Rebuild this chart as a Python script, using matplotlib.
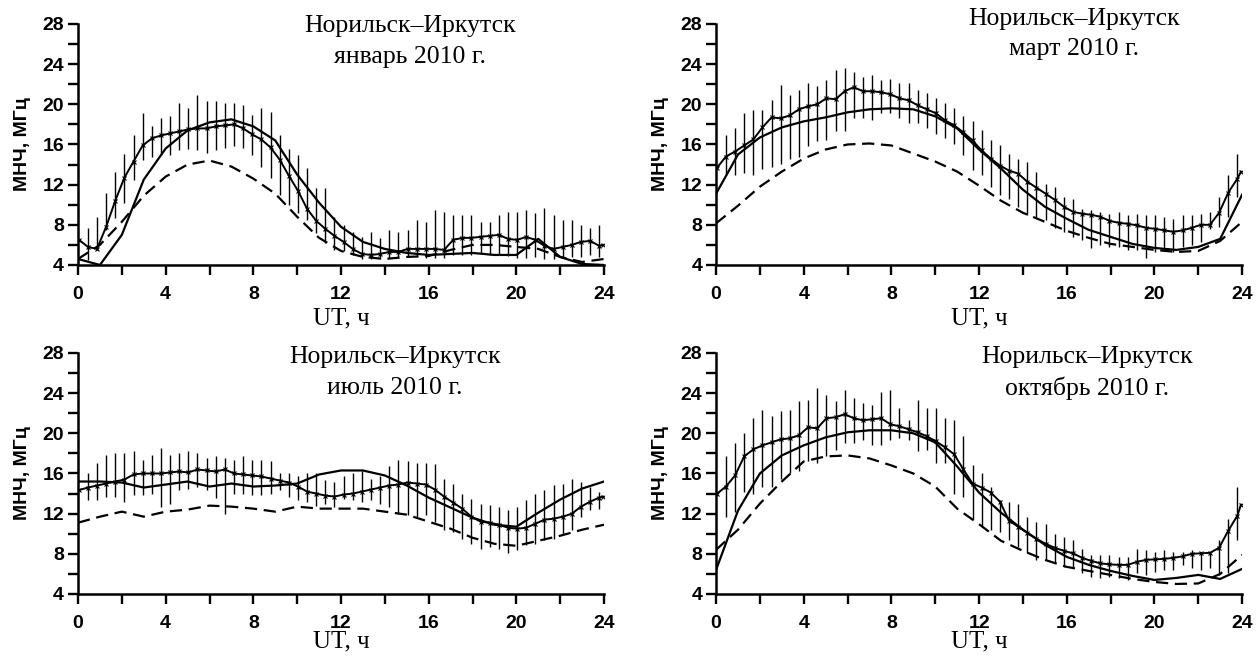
import matplotlib.pyplot as plt
import numpy as np
from matplotlib.ticker import MultipleLocator

# модельные кривые: значения на целые часы UT
HOURS = list(range(25))
# измерения: отсчёты через 25 мин (бары) + крайние точки
T_BAR = 0.45 + np.arange(57) * 25 / 60
T_MEAS = np.r_[0.05, T_BAR, 23.95]

TITLES = ["январь 2010 г.", "март 2010 г.", "июль 2010 г.", "октябрь 2010 г."]
ROUTE = "Норильск–Иркутск"

# ---- январь ----
MEAS_JAN = [6.5, 5.8, 5.6, 7.8, 10.4, 12.7, 14.3, 15.9, 16.6, 16.9, 17.1, 17.3, 17.5, 17.6, 17.6,
            17.8, 17.9, 18.0, 17.6, 17.0, 16.5, 15.7, 14.5, 12.9, 11.4, 9.6, 8.4, 7.6, 6.9, 6.3,
            5.6, 5.1, 5.0, 5.1, 5.3, 5.3, 5.6, 5.6, 5.6, 5.6, 5.5, 6.5, 6.7, 6.7, 6.8, 6.9, 7.0,
            6.6, 6.5, 6.8, 6.5, 5.9, 5.6, 5.8, 6.0, 6.3, 6.4, 5.9, 6.0]
LO_JAN = [4.5, 5.5, 7.5, 8.7, 10.2, 12.5, 14.5, 14.8, 15.0, 15.0, 15.4, 15.5, 15.4, 15.2, 15.4,
          15.6, 15.8, 15.6, 15.0, 13.8, 12.7, 11.0, 10.0, 9.2, 8.5, 7.2, 6.2, 5.5, 5.4, 5.0,
          4.6, 4.6, 4.6, 4.7, 4.8, 4.8, 4.8, 4.7, 4.7, 4.7, 5.0, 5.0, 5.0, 5.2, 5.0, 5.0, 4.9,
          4.7, 4.7, 4.8, 4.6, 4.6, 4.8, 4.8, 4.8, 5.0, 4.8]
HI_JAN = [7.7, 8.8, 11.2, 13.3, 15.1, 16.9, 19.1, 17.8, 18.6, 18.8, 20.1, 19.6, 20.9, 20.3, 20.3,
          20.1, 20.1, 19.9, 18.9, 19.6, 19.2, 16.9, 15.5, 15.0, 13.7, 11.7, 11.7, 8.8, 8.0, 7.3,
          6.8, 7.3, 6.7, 7.5, 7.3, 7.5, 8.5, 8.3, 9.5, 9.3, 9.0, 9.0, 9.0, 8.3, 8.3, 9.0, 9.3,
          9.3, 9.5, 9.2, 9.7, 9.0, 8.5, 8.5, 8.0, 7.7, 8.0]
SOLID_JAN = [4.6, 4.0, 7.0, 12.5, 15.6, 17.4, 18.2, 18.5, 17.8, 16.4, 13.0, 10.2, 7.8, 6.3, 5.6,
             5.2, 5.0, 5.1, 5.2, 5.0, 5.0, 6.6, 4.8, 4.1, 4.0]
DASH_JAN = [4.6, 6.0, 8.3, 10.9, 12.8, 14.0, 14.4, 13.8, 12.6, 11.1, 8.8, 6.7, 5.4, 4.8, 4.6,
            4.8, 4.9, 5.5, 6.0, 6.0, 5.8, 5.6, 4.8, 4.3, 4.6]

# ---- март ----
MEAS_MAR = [13.7, 14.8, 15.3, 15.9, 16.5, 17.7, 18.7, 18.6, 18.9, 19.5, 19.8, 20.0, 20.6, 20.5,
            21.3, 21.7, 21.3, 21.3, 21.2, 21.0, 20.6, 20.4, 19.9, 19.5, 19.1, 18.4, 17.9, 17.2,
            16.4, 15.4, 14.6, 13.9, 13.4, 13.1, 12.3, 11.7, 11.1, 10.5, 9.8, 9.3, 9.1, 9.0, 8.8,
            8.4, 8.2, 8.1, 7.95, 7.7, 7.6, 7.45, 7.3, 7.45, 7.7, 8.0, 8.0, 9.2, 11.2, 12.6, 13.3]
LO_MAR = [13.0, 13.0, 13.2, 13.0, 13.6, 13.8, 14.1, 14.6, 14.8, 15.8, 16.3, 16.4, 17.3, 17.3,
          18.6, 18.6, 18.4, 19.1, 19.1, 18.6, 18.1, 18.1, 17.6, 17.0, 16.6, 16.0, 15.0, 13.5,
          13.0, 11.8, 11.0, 10.6, 9.8, 9.0, 8.8, 8.5, 7.65, 7.3, 6.8, 6.5, 5.65, 6.0, 5.8, 5.8,
          5.5, 5.5, 4.7, 5.3, 5.5, 5.3, 5.8, 6.0, 6.3, 7.6, 7.8, 8.8, 10.8]
HI_MAR = [16.9, 17.6, 19.1, 19.4, 19.4, 20.4, 21.9, 20.9, 21.4, 22.1, 21.8, 22.4, 23.4, 23.6,
          23.2, 22.7, 22.9, 22.4, 22.5, 22.1, 22.1, 21.4, 21.1, 20.6, 20.1, 19.6, 18.8, 18.3,
          17.4, 16.4, 15.9, 15.1, 14.6, 14.3, 13.3, 12.1, 11.8, 10.8, 10.6, 9.6, 9.5, 9.3, 9.1,
          9.3, 9.0, 9.1, 9.0, 9.0, 8.8, 8.6, 9.0, 9.0, 9.1, 9.3, 10.8, 13.0, 15.1]
SOLID_MAR = [11.1, 15.0, 16.7, 17.7, 18.3, 18.7, 19.2, 19.5, 19.6, 19.5, 18.8, 17.6, 15.5, 13.6,
             11.5, 9.8, 8.6, 7.5, 6.8, 6.1, 5.7, 5.5, 5.8, 6.6, 11.0]
DASH_MAR = [8.15, 9.9, 11.8, 13.3, 14.6, 15.5, 16.0, 16.1, 15.9, 15.1, 14.3, 13.3, 11.9, 10.4,
            9.2, 8.3, 7.4, 6.7, 6.1, 5.8, 5.5, 5.3, 5.4, 6.4, 8.3]

# ---- июль ----
MEAS_JUL = [14.35, 14.6, 14.8, 15.0, 15.2, 15.4, 15.9, 16.0, 16.0, 16.0, 16.1, 16.2, 16.1, 16.4,
            16.3, 16.2, 16.4, 16.0, 15.9, 15.8, 15.7, 15.5, 15.3, 15.1, 14.7, 14.2, 14.0, 13.8,
            13.7, 13.9, 14.0, 14.2, 14.4, 14.6, 14.8, 14.9, 15.1, 15.0, 14.9, 14.4, 13.7, 13.1,
            12.5, 11.7, 11.2, 11.1, 10.9, 10.6, 10.5, 10.6, 11.0, 11.4, 11.5, 11.7, 12.0, 12.7,
            13.2, 13.6, 13.7]
LO_JUL = [13.4, 13.4, 13.7, 13.7, 13.2, 13.9, 13.9, 14.0, 12.7, 13.0, 14.4, 14.5, 14.7, 14.35,
          13.6, 12.0, 14.0, 14.0, 13.9, 13.9, 14.0, 14.35, 13.7, 13.4, 13.2, 12.8, 13.0, 12.7,
          13.5, 13.4, 13.2, 13.4, 13.0, 12.7, 12.0, 11.9, 11.7, 11.9, 11.2, 10.4, 10.2, 9.5, 9.0,
          8.5, 8.7, 8.5, 8.05, 8.4, 8.9, 9.0, 9.4, 9.5, 10.0, 10.4, 11.7, 12.4, 12.5]
HI_JUL = [16.0, 17.0, 17.8, 18.0, 18.0, 18.2, 17.3, 17.8, 18.5, 17.8, 18.0, 18.2, 18.0, 17.5,
          17.7, 17.5, 17.3, 17.7, 17.3, 17.3, 17.2, 16.0, 16.0, 15.7, 16.0, 16.0, 15.35, 15.2,
          15.7, 16.0, 16.2, 15.5, 15.7, 16.7, 17.3, 17.2, 17.0, 17.0, 16.9, 15.5, 15.0, 14.0,
          13.5, 13.0, 12.9, 12.7, 12.4, 12.7, 13.4, 14.0, 14.35, 14.85, 15.0, 15.5, 15.2, 14.7,
          14.2]
SOLID_JUL = [15.2, 15.2, 15.1, 14.6, 14.9, 15.2, 14.7, 15.0, 14.7, 14.8, 15.0, 15.9, 16.3, 16.3,
             15.8, 14.8, 13.6, 12.6, 11.6, 10.9, 10.7, 12.1, 13.4, 14.5, 15.2]
DASH_JUL = [11.1, 11.7, 12.2, 11.7, 12.2, 12.4, 12.8, 12.7, 12.5, 12.2, 12.7, 12.5, 12.5, 12.5,
            12.2, 11.9, 11.2, 10.5, 9.6, 9.0, 8.8, 9.3, 9.8, 10.4, 10.9]

# ---- октябрь ----
MEAS_OCT = [14.0, 14.7, 15.8, 17.7, 18.4, 18.8, 19.1, 19.4, 19.5, 19.8, 20.6, 20.5, 21.5, 21.6,
            21.9, 21.5, 21.3, 21.4, 21.5, 20.9, 20.7, 20.4, 20.1, 19.7, 19.2, 18.6, 17.9, 16.4,
            15.0, 14.6, 14.1, 13.2, 11.3, 10.7, 10.1, 9.5, 9.0, 8.6, 8.3, 8.05, 7.6, 7.3, 7.05,
            6.95, 6.9, 6.9, 7.2, 7.4, 7.45, 7.5, 7.6, 7.75, 8.0, 8.05, 8.1, 8.6, 10.3, 11.8, 12.9]
LO_OCT = [11.7, 12.2, 14.2, 14.0, 14.7, 14.7, 15.5, 16.0, 16.2, 17.2, 17.0, 17.7, 18.3, 19.0,
          19.0, 19.3, 18.8, 18.8, 19.3, 19.5, 19.3, 18.2, 18.3, 17.0, 17.0, 14.0, 13.7, 11.5,
          10.7, 10.4, 10.2, 9.4, 8.7, 8.05, 7.4, 7.4, 7.05, 6.7, 6.7, 6.05, 5.7, 5.55, 5.7, 5.55,
          5.4, 6.05, 5.9, 6.2, 6.4, 6.4, 6.9, 6.55, 6.4, 6.55, 5.9, 6.05, 9.4]
HI_OCT = [17.7, 19.0, 20.0, 21.5, 22.3, 21.7, 22.2, 22.3, 23.2, 23.3, 24.5, 23.8, 23.2, 24.3,
          23.5, 23.0, 22.8, 24.1, 24.3, 22.5, 21.3, 23.3, 22.5, 22.5, 21.5, 21.3, 19.7, 16.85,
          16.0, 14.7, 13.4, 13.2, 13.0, 11.7, 11.2, 11.0, 10.0, 9.7, 9.4, 8.5, 7.9, 7.9, 7.9,
          7.7, 7.7, 8.5, 8.4, 8.2, 8.4, 8.2, 8.2, 8.4, 8.2, 8.2, 9.4, 11.5, 14.7]
SOLID_OCT = [6.4, 12.3, 16.0, 17.8, 18.8, 19.6, 20.1, 20.3, 20.3, 20.0, 19.1, 16.7, 14.1, 12.1,
             10.4, 8.9, 7.7, 6.9, 6.3, 5.8, 5.4, 5.6, 5.9, 5.5, 6.5]
DASH_OCT = [8.4, 10.4, 13.0, 15.2, 17.2, 17.7, 17.8, 17.5, 16.8, 16.0, 14.7, 12.5, 10.95, 9.3,
            8.3, 7.4, 6.7, 6.3, 5.9, 5.5, 5.2, 5.0, 5.05, 6.0, 7.9]

SERIES = [
    (MEAS_JAN, LO_JAN, HI_JAN, SOLID_JAN, DASH_JAN),
    (MEAS_MAR, LO_MAR, HI_MAR, SOLID_MAR, DASH_MAR),
    (MEAS_JUL, LO_JUL, HI_JUL, SOLID_JUL, DASH_JUL),
    (MEAS_OCT, LO_OCT, HI_OCT, SOLID_OCT, DASH_OCT),
]

# положение панелей и подписей
RECTS = [[0.0619, 0.5985, 0.4175, 0.3652], [0.5683, 0.5985, 0.4175, 0.3652],
         [0.0619, 0.1000, 0.4175, 0.3652], [0.5683, 0.1000, 0.4175, 0.3652]]
TITLE_POS = [(0.632, 0.967, 0.838), (0.681, 0.996, 0.871),
             (0.603, 0.959, 0.830), (0.706, 0.959, 0.826)]
XLABEL_Y = [-0.178, -0.178, -0.15, -0.15]

SANS = "Liberation Sans"
SERIF = "Liberation Serif"

fig = plt.figure(figsize=(12.6, 6.6), dpi=100)

for i, (meas, lo, hi, solid, dash) in enumerate(SERIES):
    ax = fig.add_axes(RECTS[i])

    ax.vlines(T_BAR, lo, hi, color="k", lw=1.0)
    ax.plot(T_MEAS, meas, color="k", lw=1.4, marker="x", ms=3.2, mew=0.8)
    ax.plot(HOURS, solid, color="k", lw=1.6)
    ax.plot(HOURS, dash, color="k", lw=1.6, dashes=(5.5, 3))

    ax.set_xlim(0, 24)
    ax.set_ylim(4, 28)
    ax.xaxis.set_major_locator(MultipleLocator(4))
    ax.xaxis.set_minor_locator(MultipleLocator(2))
    ax.yaxis.set_major_locator(MultipleLocator(4))
    ax.yaxis.set_minor_locator(MultipleLocator(2))
    for s in ["top", "right"]:
        ax.spines[s].set_visible(False)
    for s in ["left", "bottom"]:
        ax.spines[s].set_linewidth(1.8)
    ax.tick_params(which="both", direction="out", length=7, width=1.7)
    ax.tick_params(axis="x", which="major", pad=8)
    ax.tick_params(axis="y", which="major", pad=3)
    for lab in ax.get_xticklabels() + ax.get_yticklabels():
        lab.set_fontfamily(SANS)
        lab.set_fontweight("bold")
        lab.set_fontsize(14)

    ax.set_ylabel("МНЧ, МГц", fontfamily=SANS, fontweight="bold", fontsize=14)
    ax.yaxis.set_label_coords(-0.09, 0.5)
    ax.set_xlabel("UT, ч", fontfamily=SERIF, fontsize=18)
    ax.xaxis.set_label_coords(0.5, XLABEL_Y[i])

    tx, ty1, ty2 = TITLE_POS[i]
    ax.text(tx, ty1, ROUTE, transform=ax.transAxes, ha="center", va="baseline",
            fontfamily=SERIF, fontsize=18.5, clip_on=False)
    ax.text(tx, ty2, TITLES[i], transform=ax.transAxes, ha="center", va="baseline",
            fontfamily=SERIF, fontsize=18.5, clip_on=False)

fig.savefig("out.png", dpi=100)
